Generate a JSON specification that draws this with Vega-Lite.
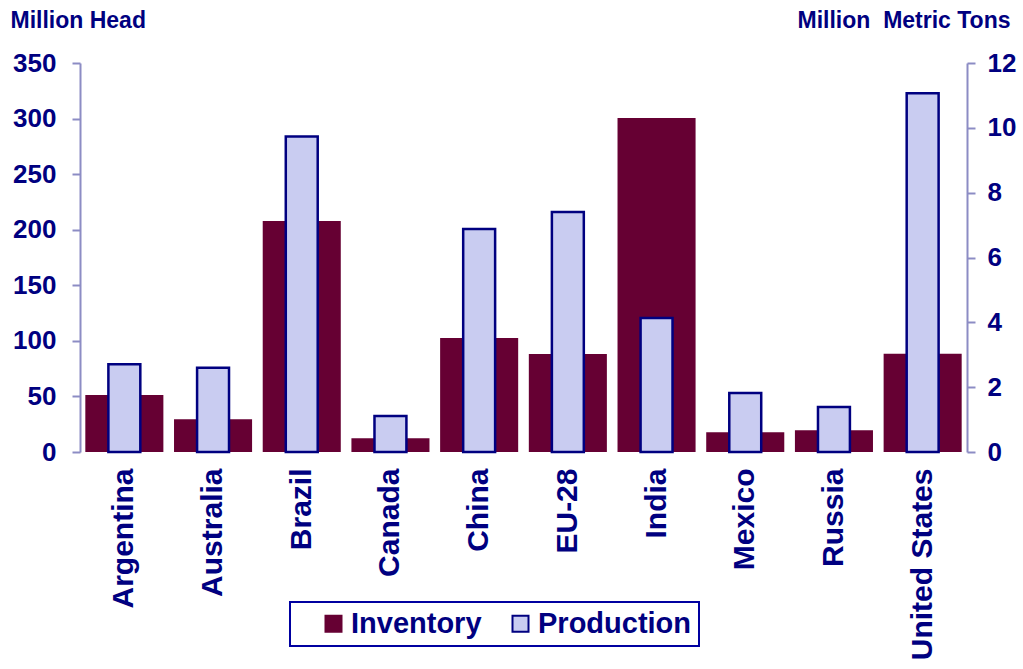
{
  "$schema": "https://vega.github.io/schema/vega-lite/v6.json",
  "width": 887,
  "height": 389,
  "autosize": {"type": "none"},
  "padding": {"left": 80, "top": 63, "right": 56, "bottom": 217},
  "background": "white",
  "config": {
    "view": {"stroke": null},
    "font": "Liberation Sans",
    "axis": {"grid": false, "labelFont": "Liberation Sans", "titleFont": "Liberation Sans"}
  },
  "data": {
    "values": [
      {"country": "Argentina", "series": "Inventory", "value": 51.3},
      {"country": "Australia", "series": "Inventory", "value": 29.4},
      {"country": "Brazil", "series": "Inventory", "value": 207.9},
      {"country": "Canada", "series": "Inventory", "value": 12.3},
      {"country": "China", "series": "Inventory", "value": 102.6},
      {"country": "EU-28", "series": "Inventory", "value": 88.2},
      {"country": "India", "series": "Inventory", "value": 300.6},
      {"country": "Mexico", "series": "Inventory", "value": 17.8},
      {"country": "Russia", "series": "Inventory", "value": 19.6},
      {"country": "United States", "series": "Inventory", "value": 88.5},
      {"country": "Argentina", "series": "Production", "value": 2.71},
      {"country": "Australia", "series": "Production", "value": 2.60},
      {"country": "Brazil", "series": "Production", "value": 9.73},
      {"country": "Canada", "series": "Production", "value": 1.11},
      {"country": "China", "series": "Production", "value": 6.88},
      {"country": "EU-28", "series": "Production", "value": 7.40},
      {"country": "India", "series": "Production", "value": 4.13},
      {"country": "Mexico", "series": "Production", "value": 1.82},
      {"country": "Russia", "series": "Production", "value": 1.39},
      {"country": "United States", "series": "Production", "value": 11.07}
    ]
  },
  "encoding": {
    "x": {
      "field": "country",
      "type": "nominal",
      "sort": null,
      "scale": {"paddingInner": 0, "paddingOuter": 0},
      "axis": {
        "title": null,
        "labelAngle": -90,
        "labelAlign": "right",
        "labelBaseline": "middle",
        "labelPadding": 16,
        "labelFontSize": 30,
        "labelFontWeight": "bold",
        "labelColor": "#000080",
        "ticks": false,
        "domain": false,
        "labelLimit": 400
      }
    }
  },
  "layer": [
    {
      "transform": [{"filter": "datum.series === 'Inventory'"}],
      "mark": {"type": "bar", "width": {"band": 0.88}, "strokeWidth": 0},
      "encoding": {
        "y": {
          "field": "value",
          "type": "quantitative",
          "scale": {"domain": [0, 350], "nice": false, "zero": true},
          "axis": {
            "orient": "left",
            "values": [0, 50, 100, 150, 200, 250, 300, 350],
            "title": "Million Head",
            "titleAngle": 0,
            "titleX": -70,
            "titleY": -36,
            "titleAlign": "left",
            "titleBaseline": "alphabetic",
            "titleFontSize": 23,
            "titleFontWeight": "bold",
            "titleColor": "#000080",
            "labelFontSize": 26,
            "labelFontWeight": "bold",
            "labelColor": "#000080",
            "labelPadding": 16,
            "domainColor": "#8c8cc4",
            "domainWidth": 2,
            "tickColor": "#8c8cc4",
            "tickWidth": 2,
            "tickSize": 8
          }
        },
        "color": {
          "field": "series",
          "type": "nominal",
          "scale": {"domain": ["Inventory", "Production"], "range": ["#660033", "#c9ccf1"]},
          "legend": {
            "title": null,
            "orient": "none",
            "legendX": 210,
            "legendY": 539,
            "direction": "horizontal",
            "strokeColor": "#0000a0",
            "padding": 7,
            "symbolType": "square",
            "symbolSize": 256,
            "symbolStrokeWidth": 2,
            "symbolOffset": 22,
            "labelFontSize": 29,
            "labelFontWeight": "bold",
            "labelColor": "#000080",
            "labelOffset": 3,
            "columnPadding": 2,
            "labelLimit": 400,
            "labelExpr": "datum.label == 'Production' ? datum.label + '\u2007' : datum.label",
            "encode": {"legend": {"update": {"strokeWidth": {"value": 2}}}}
          }
        },
        "stroke": {
          "field": "series",
          "type": "nominal",
          "scale": {"domain": ["Inventory", "Production"], "range": ["#660033", "#000080"]},
          "legend": {
            "title": null,
            "orient": "none",
            "legendX": 210,
            "legendY": 539,
            "direction": "horizontal",
            "strokeColor": "#0000a0",
            "padding": 7,
            "symbolType": "square",
            "symbolSize": 256,
            "symbolStrokeWidth": 2,
            "symbolOffset": 22,
            "labelFontSize": 29,
            "labelFontWeight": "bold",
            "labelColor": "#000080",
            "labelOffset": 3,
            "columnPadding": 2,
            "labelLimit": 400,
            "labelExpr": "datum.label == 'Production' ? datum.label + '\u2007' : datum.label",
            "encode": {"legend": {"update": {"strokeWidth": {"value": 2}}}}
          }
        }
      }
    },
    {
      "transform": [{"filter": "datum.series === 'Production'"}],
      "mark": {"type": "bar", "width": {"band": 0.36}, "strokeWidth": 2.5},
      "encoding": {
        "y": {
          "field": "value",
          "type": "quantitative",
          "scale": {"domain": [0, 12], "nice": false, "zero": true},
          "axis": {
            "orient": "right",
            "values": [0, 2, 4, 6, 8, 10, 12],
            "title": "Million\u00a0 Metric Tons",
            "titleAngle": 0,
            "titleX": 43,
            "titleY": -36,
            "titleAlign": "right",
            "titleBaseline": "alphabetic",
            "titleFontSize": 23,
            "titleFontWeight": "bold",
            "titleColor": "#000080",
            "labelFontSize": 26,
            "labelFontWeight": "bold",
            "labelColor": "#000080",
            "labelPadding": 12,
            "domainColor": "#8c8cc4",
            "domainWidth": 2,
            "tickColor": "#8c8cc4",
            "tickWidth": 2,
            "tickSize": 8
          }
        },
        "color": {"field": "series", "type": "nominal"},
        "stroke": {"field": "series", "type": "nominal"}
      }
    }
  ],
  "resolve": {"scale": {"y": "independent"}}
}
